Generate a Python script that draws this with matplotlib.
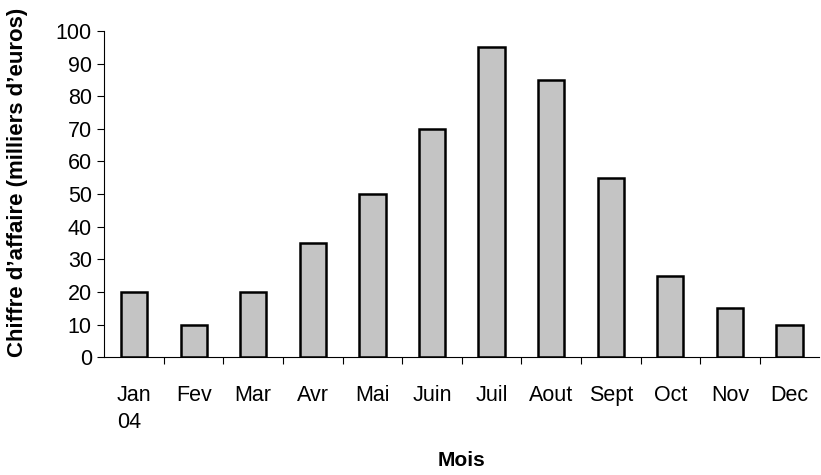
import numpy as np
import matplotlib.pyplot as plt

# monthly turnover, thousands of euros
mois = ['Jan\n04', 'Fev', 'Mar', 'Avr', 'Mai', 'Juin', 'Juil', 'Aout', 'Sept', 'Oct', 'Nov', 'Dec']
chiffre = [20, 10, 20, 35, 50, 70, 95, 85, 55, 25, 15, 10]

plt.rcParams['font.family'] = ['Liberation Sans', 'DejaVu Sans']

fig = plt.figure(figsize=(8.21, 4.75), dpi=100)
ax = fig.add_axes([0.127, 0.248, 0.871, 0.687])

x = np.arange(len(mois))
ax.bar(x, chiffre, width=0.44, color='#c4c4c4', edgecolor='black', linewidth=1.8)

ax.set_xlim(-0.5, len(mois) - 0.5)
ax.set_ylim(0, 100)
ax.set_yticks(range(0, 101, 10))
ax.tick_params(axis='y', labelsize=15.5, length=5, width=0.8, pad=4)

ax.set_xticks(x)
ax.set_xticklabels(mois, ha='center', multialignment='left', linespacing=1.35)
ax.set_xticks(np.arange(0.5, len(mois) - 0.5), minor=True)
ax.tick_params(axis='x', which='major', length=0, labelsize=15.5, pad=20)
ax.tick_params(axis='x', which='minor', length=5, width=0.8)

for s in ['top', 'right']:
    ax.spines[s].set_visible(False)
ax.spines['left'].set_linewidth(0.8)
ax.spines['bottom'].set_linewidth(0.8)

ax.set_xlabel('Mois', fontsize=15, fontweight='bold', labelpad=13)
ax.set_ylabel('Chiffre d\u2019affaire (milliers d\u2019euros)', fontsize=16, fontweight='bold')
ax.yaxis.set_label_coords(-0.106, 0.537)

fig.savefig('out.png', dpi=100)
